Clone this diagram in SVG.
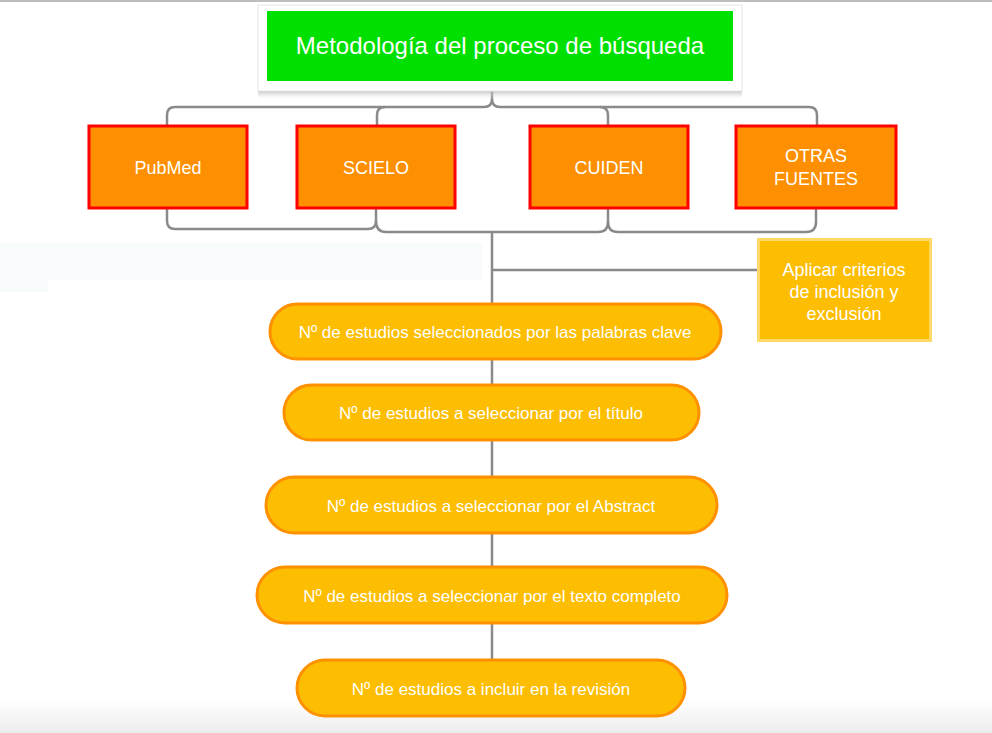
<svg xmlns="http://www.w3.org/2000/svg" width="992" height="733" viewBox="0 0 992 733">
<defs>
<linearGradient id="bottomFade" x1="0" y1="0" x2="0" y2="1">
<stop offset="0" stop-color="#ffffff"/>
<stop offset="1" stop-color="#ececec"/>
</linearGradient>
<linearGradient id="shadow" x1="0" y1="0" x2="0" y2="1">
<stop offset="0" stop-color="#9a9a9a"/>
<stop offset="1" stop-color="#ffffff" stop-opacity="0"/>
</linearGradient>
<style>
.src rect{fill:#fd8f00;stroke:#ff0000;stroke-width:3}
.pill rect{fill:#fdbd00;stroke:#ff9000;stroke-width:3}
.lbl{font-family:"Liberation Sans",Arial,sans-serif;fill:#ffffff;text-anchor:middle}
.s17{font-size:17px}
.s18{font-size:18px}
.conn path{fill:none;stroke:#8a8a8a;stroke-width:2.5}
</style>
</defs>
<rect x="0" y="0" width="992" height="733" fill="#ffffff"/>
<rect x="0" y="700" width="992" height="33" fill="url(#bottomFade)"/>
<rect x="0" y="243" width="482" height="37" fill="#f7fbfb"/>
<rect x="0" y="280" width="48" height="12" fill="#f7fbfb"/>
<line x1="0" y1="1" x2="992" y2="1" stroke="#bdbdbd" stroke-width="2"/>

<g class="conn" id="connectors">
<path d="M492 90 V99 Q492 107 484 107 H175 Q167 107 167 115 V125"/>
<path d="M492 99 Q492 107 500 107 H809 Q817 107 817 115 V125"/>
<path d="M385 107 Q377 107 377 115 V125"/>
<path d="M600 107 Q608 107 608 115 V125"/>
<path d="M167 208 V221 Q167 229 175 229 H368 Q376 229 376 221 V208"/>
<path d="M376 221 Q376 232 386 232 H598 Q608 232 608 222 V208"/>
<path d="M608 222 Q608 232 618 232 H806 Q816 232 816 222 V208"/>
<path d="M492 232 V659"/>
<path d="M492 270 H757"/>
</g>

<g id="title">
<rect x="258" y="88" width="484" height="12" fill="url(#shadow)"/>
<rect x="258" y="5" width="484" height="86" fill="#ffffff" stroke="#e6e6e6" stroke-width="1"/>
<rect x="267" y="11" width="466" height="70" fill="#00e000"/>
<text class="lbl" x="500" y="54" font-size="24">Metodología del proceso de búsqueda</text>
</g>

<g id="pubmed" class="src">
<rect x="89" y="126" width="158" height="82"/>
<text class="lbl s18" x="168" y="174">PubMed</text>
</g>
<g id="scielo" class="src">
<rect x="297" y="126" width="158" height="82"/>
<text class="lbl s18" x="376" y="174">SCIELO</text>
</g>
<g id="cuiden" class="src">
<rect x="530" y="126" width="158" height="82"/>
<text class="lbl s18" x="609" y="174">CUIDEN</text>
</g>
<g id="otras" class="src">
<rect x="736" y="126" width="160" height="82"/>
<text class="lbl s18" x="816" y="162">OTRAS</text>
<text class="lbl s18" x="816" y="185">FUENTES</text>
</g>

<g id="criterios">
<rect x="758.5" y="239.5" width="172" height="101" fill="#fdbd00" stroke="#ffd966" stroke-width="3"/>
<text class="lbl s18" x="844" y="276">Aplicar criterios</text>
<text class="lbl s18" x="844" y="298">de inclusión y</text>
<text class="lbl s18" x="844" y="320">exclusión</text>
</g>

<g id="paso1" class="pill">
<rect x="270" y="304" width="451" height="55" rx="27.5"/>
<text class="lbl s17" x="495" y="338">Nº de estudios seleccionados por las palabras clave</text>
</g>
<g id="paso2" class="pill">
<rect x="284" y="385" width="415" height="55" rx="27.5"/>
<text class="lbl s17" x="491" y="419">Nº de estudios a seleccionar por el título</text>
</g>
<g id="paso3" class="pill">
<rect x="266" y="477" width="451" height="56" rx="28"/>
<text class="lbl s17" x="491" y="512">Nº de estudios a seleccionar por el Abstract</text>
</g>
<g id="paso4" class="pill">
<rect x="257" y="567" width="470" height="56" rx="28"/>
<text class="lbl s17" x="492" y="602">Nº de estudios a seleccionar por el texto completo</text>
</g>
<g id="paso5" class="pill">
<rect x="297" y="660" width="388" height="56" rx="28"/>
<text class="lbl s17" x="491" y="695">Nº de estudios a incluir en la revisión</text>
</g>
</svg>
